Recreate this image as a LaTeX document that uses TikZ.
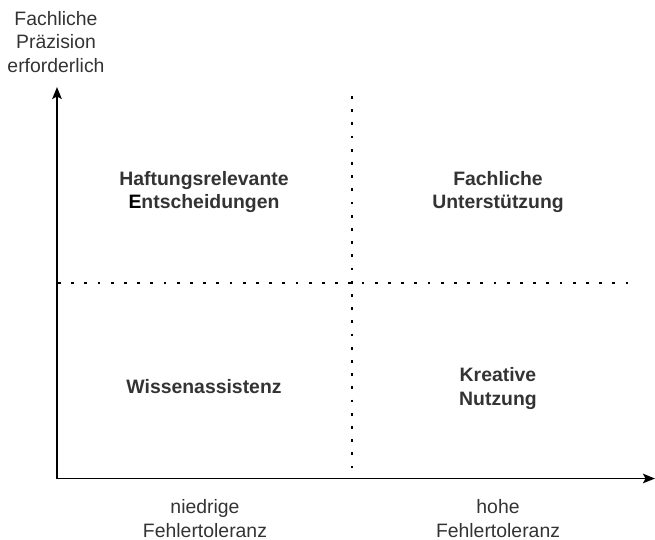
\documentclass[tikz,border=0pt]{standalone}
\usepackage{fontspec}
\setmainfont{Liberation Sans}
\usetikzlibrary{arrows.meta}
\definecolor{txt}{HTML}{333333}
\tikzset{
  axis/.style={line width=1.6pt, -{Stealth[length=12pt,width=9.5pt,inset=2.5pt]}},
  dotline/.style={line width=2.8pt, dash pattern=on 2.8pt off 10.4pt, black},
  quad/.style={inner sep=0pt, align=center, text=txt, font=\fontsize{19.4}{23.5}\selectfont\bfseries},
  axlabel/.style={inner sep=0pt, align=center, text=txt, font=\fontsize{19.4}{23.5}\selectfont}
}
\begin{document}
\begin{tikzpicture}[x=1pt,y=-1pt]
\useasboundingbox (0,0) rectangle (655,540);
\coordinate (o) at (57,478.5);
\coordinate (ytip) at (57,87);
\coordinate (xtip) at (655,478.5);
\coordinate (vtop) at (352,96);
\coordinate (vbot) at (352,478.5);
\coordinate (hl) at (58,283);
\coordinate (hr) at (637,283);
\draw[dotline] (vtop) -- (vbot);
\draw[dotline] (hl) -- (hr);
\draw[axis] (o) -- (ytip);
\draw[axis] (o) -- (xtip);
\node[axlabel] (ylab) at (56,42) {Fachliche\\Präzision\\erforderlich};
\node[quad] (q1) at (204,192) {Haftungsrelevante\\\textcolor{black}{E}ntscheidungen};
\node[quad] (q2) at (498,192) {Fachliche\\Unterstützung};
\node[quad] (q3) at (204,387) {Wissenassistenz};
\node[quad] (q4) at (498,388.5) {Kreative\\Nutzung};
\node[axlabel] (xl1) at (205,518.5) {niedrige\\Fehlertoleranz};
\node[axlabel] (xl2) at (498,518.5) {hohe\\Fehlertoleranz};
\end{tikzpicture}
\end{document}
